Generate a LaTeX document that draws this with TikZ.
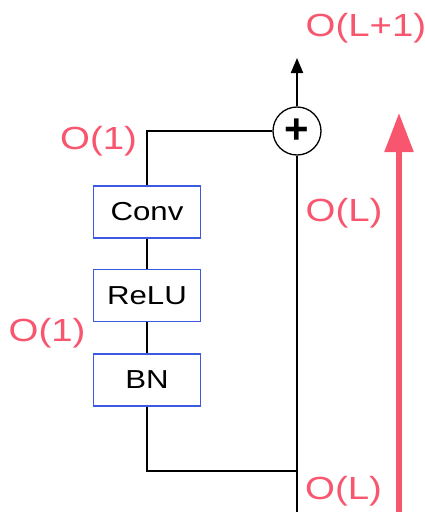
\documentclass[tikz,border=0pt]{standalone}
\usepackage{fontspec}
\setmainfont{Liberation Sans}
\newfontfamily\lblfont[FakeStretch=1.2]{Liberation Sans}
\usetikzlibrary{arrows.meta}
\definecolor{lblred}{RGB}{247,86,110}
\definecolor{boxblue}{RGB}{60,90,225}
\begin{document}
\begin{tikzpicture}[x=1pt,y=-1pt,
  blk/.style={draw=boxblue, line width=1.1pt, minimum width=107pt, minimum height=52pt, inner sep=0pt, font=\lblfont\fontsize{26}{26}\selectfont},
  lbl/.style={text=lblred, inner sep=0pt, anchor=base west, font=\lblfont\fontsize{32}{32}\selectfont},
  wire/.style={line width=2.1pt},
  sum/.style={draw, circle, line width=1.3pt, minimum size=48pt, inner sep=0pt, font=\bfseries\fontsize{42}{42}\selectfont}]
\useasboundingbox (0,0) rectangle (425,512);
\node[blk] (conv) at (147,212) {Conv};
\node[blk] (relu) at (147,295.5) {ReLU};
\node[blk] (bn) at (147,380) {BN};
\node[sum] (plus) at (297,131) {+};
\coordinate (bot) at (297,512);
\coordinate (top) at (297,58);
\coordinate (join) at (297,471);
\draw[wire] (conv) -- (relu);
\draw[wire] (relu) -- (bn);
\draw[wire] (bn.south) |- (join);
\draw[wire] (bot) -- (plus);
\draw[wire] (conv.north) |- (plus.west);
\draw[wire, -{Triangle[width=12pt,length=15pt]}] (plus) -- (top);
\coordinate (rs) at (399,512);
\coordinate (re) at (399,113);
\draw[line width=5.5pt, lblred, -{Triangle[width=28pt,length=39pt]}] (rs) -- (re);
\node[lbl] (l1) at (305.5,36.5) {O(L+1)};
\node[lbl] (l2) at (60,149) {O(1)};
\node[lbl] (l3) at (305.5,221.5) {O(L)};
\node[lbl] (l4) at (8.5,341.5) {O(1)};
\node[lbl] (l5) at (305,499.5) {O(L)};
\end{tikzpicture}
\end{document}
